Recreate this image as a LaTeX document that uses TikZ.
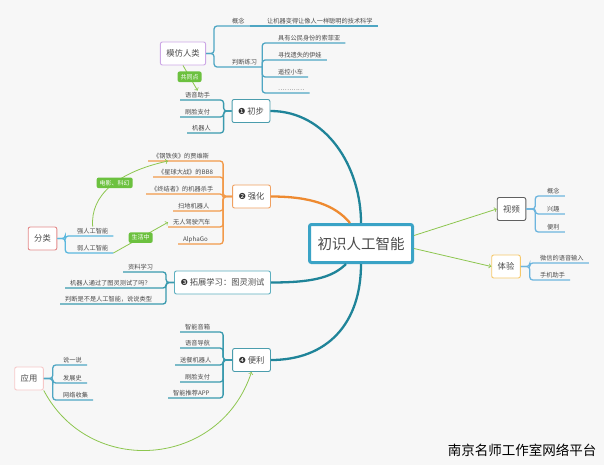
\documentclass[tikz,border=0pt]{standalone}
\usepackage{fontspec}
\setmainfont{Noto Sans CJK SC}
\newfontfamily\dingfont{DejaVu Sans}
\usepackage{tikz}
\usetikzlibrary{calc,arrows}

\definecolor{bgc}{HTML}{F7F7F7}
\definecolor{txt}{HTML}{4A4A4A}
\definecolor{numc}{HTML}{333333}
\definecolor{limbc}{HTML}{1F8499}
\definecolor{orc}{HTML}{EE8A30}
\definecolor{zxc}{HTML}{3AA3C6}
\definecolor{relc}{HTML}{8DC64F}
\definecolor{tagc}{HTML}{6CC13F}
\definecolor{mfc}{HTML}{CDA8E6}
\definecolor{mfl}{HTML}{4FA6C3}
\definecolor{cbc}{HTML}{4B9DAD}
\definecolor{cbl}{HTML}{3A9AAE}
\definecolor{qhc}{HTML}{F0A060}
\definecolor{qhl}{HTML}{F29A4A}
\definecolor{tzc}{HTML}{5DAFBF}
\definecolor{flc}{HTML}{E38A8A}
\definecolor{fll}{HTML}{5BB8DE}
\definecolor{yyc}{HTML}{F6C8C8}
\definecolor{spc}{HTML}{606060}
\definecolor{tyc}{HTML}{F6C86A}
\definecolor{rl}{HTML}{6DB5DE}

\newcommand{\numc}[1]{{\dingfont\color{numc}#1}}

\begin{document}
\begin{tikzpicture}[x=1pt,y=-1pt]
    \tikzstyle{every node}=[font=\fontsize{6.2pt}{7pt}\selectfont, text=txt]
    \tikzstyle{topic}=[draw, fill=white, rounded corners=2pt, line width=0.9pt, minimum height=23pt, inner xsep=6pt, font=\fontsize{8.3pt}{10pt}\selectfont]
    \tikzstyle{leaf}=[anchor=south west, inner xsep=5pt, inner ysep=1.5pt, text height=5pt, text depth=1pt]
    \tikzstyle{tag}=[fill=tagc, rounded corners=2pt, text=white, inner xsep=3pt, inner ysep=2.5pt, font=\fontsize{6pt}{7pt}\selectfont]
    \tikzstyle{twig}=[line width=1.3pt, rounded corners=3pt]
    \tikzstyle{limb}=[line width=2.3pt]
    \tikzstyle{rel}=[draw=relc, line width=0.8pt, ->]
    % background
    \useasboundingbox (0,0) rectangle (604,465);
    \fill[bgc] (0,0) rectangle (604,465);
    % draw topics
    \node[topic, draw=zxc, line width=3pt, inner xsep=8pt, minimum width=103pt, minimum height=38pt, font=\fontsize{14.5pt}{16pt}\selectfont] (zhongxin) at (361,243.5) {初识人工智能};
    \node[topic, draw=mfc] (mofang) at (183,53.5) {模仿人类};
    \node[topic, draw=cbc] (chubu) at (251,111) {\numc{❶} 初步};
    \node[topic, draw=qhc] (qianghua) at (251.5,196.5) {\numc{❷} 强化};
    \node[topic, draw=tzc] (tuozhan) at (222.5,282.5) {\numc{❸} 拓展学习：图灵测试};
    \node[topic, draw=cbc] (bianli) at (251.5,360) {\numc{❹} 便利};
    \node[topic, draw=flc] (fenlei) at (42.5,238.5) {分类};
    \node[topic, draw=yyc] (yingyong) at (29,378.5) {应用};
    \node[topic, draw=spc] (shipin) at (511.5,209) {视频};
    \node[topic, draw=tyc] (tiyan) at (506,266.5) {体验};
    % draw leaves
    \node[leaf] (m1) at (227,26) {概念};
    \node[leaf] (m2) at (227,67) {判断练习};
    \node[leaf] (m3) at (262,26) {让机器变得让像人一样聪明的技术科学};
    \node[leaf] (p1) at (273,43) {具有公民身份的索菲亚};
    \node[leaf] (p2) at (273,60) {寻找遗失的伊娃};
    \node[leaf] (p3) at (273,77) {遥控小车};
    \node[leaf] (p4) at (273,93) {…………};
    \node[leaf] (c1) at (180,100) {语音助手};
    \node[leaf] (c2) at (180,117) {刷脸支付};
    \node[leaf] (c3) at (187,133) {机器人};
    \node[leaf] (q1) at (148,161) {《钢铁侠》的贾维斯};
    \node[leaf] (q2) at (153,177) {《星球大战》的BB8};
    \node[leaf] (q3) at (146,194) {《终结者》的机器杀手};
    \node[leaf] (q4) at (173,211) {扫地机器人};
    \node[leaf] (q5) at (168,227) {无人驾驶汽车};
    \node[leaf] (q6) at (178,244) {AlphaGo};
    \node[leaf] (t1) at (123,272) {资料学习};
    \node[leaf] (t2) at (65,288) {机器人通过了图灵测试了吗？};
    \node[leaf] (t3) at (60,304) {判断是不是人工智能，说说类型};
    \node[leaf] (b1) at (180,332) {智能音箱};
    \node[leaf] (b2) at (180,348) {语音导航};
    \node[leaf] (b3) at (175,365) {送餐机器人};
    \node[leaf] (b4) at (180,382) {刷脸支付};
    \node[leaf] (b5) at (168,398) {智能推荐APP};
    \node[leaf] (f1) at (72,236) {强人工智能};
    \node[leaf] (f2) at (72,253) {弱人工智能};
    \node[leaf] (y1) at (58,365) {说一说};
    \node[leaf] (y2) at (58,383) {发展史};
    \node[leaf] (y3) at (58,400) {网络收集};
    \node[leaf] (v1) at (542,196) {概念};
    \node[leaf] (v2) at (542,214) {兴趣};
    \node[leaf] (v3) at (542,232) {便利};
    \node[leaf] (e1) at (535,263) {微信的语音输入};
    \node[leaf] (e2) at (535,280) {手机助手};
    % draw main branches
    \draw[limb, draw=limbc] (zhongxin.north) .. controls +(0,-56) and +(56,0) .. (chubu.east);
    \draw[limb, draw=orc] ($(zhongxin.north west)+(42,0)$) .. controls +(-15,-18) and +(40,0) .. (qianghua.east);
    \draw[limb, draw=limbc] ($(zhongxin.south west)+(38,0)$) .. controls +(-14,14) and +(40,0) .. (tuozhan.east);
    \draw[limb, draw=limbc] (zhongxin.south) .. controls +(0,60) and +(56,0) .. (bianli.east);
    % draw brackets
    \foreach \n in {m1,m2} \draw[twig, draw=mfl] (mofang.east) -- ++(8,0) |- (\n.south east);
    \draw[twig, draw=mfl] (m1.south east) -- (m3.south east);
    \foreach \n in {p1,p2,p3,p4} \draw[twig, draw=mfl] (m2.south east) |- (\n.south east);
    \foreach \n in {c1,c2,c3} \draw[twig, draw=cbl] (chubu.west) -- ++(-8,0) |- (\n.south west);
    \foreach \n in {q1,q2,q3,q4,q5,q6} \draw[twig, draw=qhl] (qianghua.west) -- ++(-9,0) |- (\n.south west);
    \foreach \n in {t1,t2,t3} \draw[twig, draw=cbl] (tuozhan.west) -- ++(-8,0) |- (\n.south west);
    \foreach \n in {b1,b2,b3,b4,b5} \draw[twig, draw=cbl] (bianli.west) -- ++(-9,0) |- (\n.south west);
    \foreach \n in {f1,f2} \draw[twig, draw=fll] (fenlei.east) -- ++(8,0) |- (\n.south east);
    \foreach \n in {y1,y2,y3} \draw[twig, draw=mfl] (yingyong.east) -- ++(9,0) |- (\n.south east);
    \foreach \n in {v1,v2,v3} \draw[twig, draw=rl] (shipin.east) -- ++(9,0) |- (\n.south east);
    \foreach \n in {e1,e2} \draw[twig, draw=rl] (tiyan.east) -- ++(9,0) |- (\n.south east);
    % draw relations
    \draw[rel] (mofang.south) -- (c1.north) node[tag, pos=.45] (gongtong) {共同点};
    \draw[rel] (f1.north) .. controls (90,195) and (118,172) .. ($(q1.south west)+(20,0)$) node[tag, pos=.55] (dianying) {电影、科幻};
    \draw[rel] (f2.south east) -- (q5.west) node[tag, pos=.5] (shenghuo) {生活中};
    \draw[rel] (yingyong.south east) .. controls (90,478) and (220,468) .. (bianli.south);
    \draw[rel] ($(zhongxin.east)+(0,-8)$) -- (shipin.west);
    \draw[rel] ($(zhongxin.east)+(0,5)$) -- (tiyan.west);
    % draw labels
    \node[font=\fontsize{13.5pt}{15pt}\selectfont, text=black] (wm) at (522,450) {南京名师工作室网络平台};
\end{tikzpicture}
\end{document}
